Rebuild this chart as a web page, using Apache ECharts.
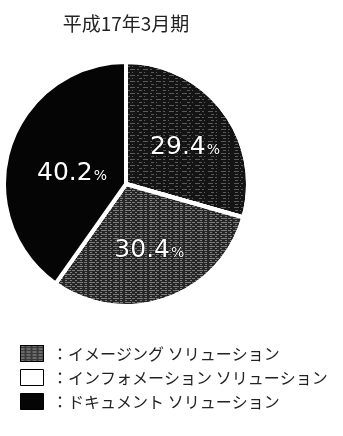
<!DOCTYPE html>
<html>
<head>
<meta charset="utf-8">
<script src="https://cdn.jsdelivr.net/npm/echarts@6/dist/echarts.min.js"></script>
<style>
html,body{margin:0;padding:0;background:#fff;}
#c{width:343px;height:436px;}
</style>
</head>
<body>
<div id="c"></div>
<script>
var titleText = '平成17年3月期';
var categories = ['イメージング ソリューション', 'インフォメーション ソリューション', 'ドキュメント ソリューション'];
var values = [29.4, 30.4, 40.2];

var sliceStyles = [
  {color: '#141414', decal: {symbol: 'rect', symbolSize: 1, dashArrayX: [[5, 2, 2, 4], [1, 6, 3, 2]], dashArrayY: [1, 2], color: 'rgba(255,255,255,0.30)', rotation: 0}},
  {color: '#262626', decal: {symbol: 'rect', symbolSize: 1, dashArrayX: [[3, 2, 6, 1], [2, 3]], dashArrayY: [1, 1], color: 'rgba(255,255,255,0.40)', rotation: 0}},
  {color: '#050505'}
];
var labelOffsets = [[8, 2], [2, 6], [7, 9]];
var legendStyles = [
  {color: '#3a3a3a', borderColor: '#000', borderWidth: 1, decal: {symbol: 'rect', symbolSize: 1, dashArrayX: [[4, 2]], dashArrayY: [1, 2], color: 'rgba(255,255,255,0.5)', rotation: 0}},
  {color: '#ffffff', borderColor: '#000', borderWidth: 1, decal: 'none'},
  {color: '#050505', borderColor: '#000', borderWidth: 1}
];

var chart = echarts.init(document.getElementById('c'), null, {renderer: 'canvas'});
var data = categories.map(function (n, i) {
  return {name: n, value: values[i], itemStyle: sliceStyles[i], label: {offset: labelOffsets[i]}};
});
chart.setOption({
  animation: false,
  backgroundColor: '#ffffff',
  title: {
    text: titleText,
    left: 121, top: 9,
    textAlign: 'center',
    textStyle: {fontFamily: 'Noto Sans CJK JP', fontSize: 19, fontWeight: 'normal', color: '#222'}
  },
  legend: {
    orient: 'vertical',
    left: 15, top: 340,
    itemWidth: 23, itemHeight: 16, itemGap: 7,
    icon: 'rect',
    selectedMode: false,
    data: categories.map(function (n, i) { return {name: n, itemStyle: legendStyles[i]}; }),
    formatter: function (n) { return ' ：' + n; },
    textStyle: {fontFamily: 'Noto Sans CJK JP', fontSize: 16, color: '#222'}
  },
  series: [{
    type: 'pie',
    center: [126, 184],
    radius: [0, 122],
    startAngle: 90,
    clockwise: true,
    itemStyle: {borderColor: '#fff', borderWidth: 4},
    label: {
      position: 'inside',
      formatter: function (p) { return '{n|' + p.value.toFixed(1) + '}{p|%}'; },
      rich: {
        n: {fontFamily: 'DejaVu Sans', fontSize: 25, color: '#fff', textBorderColor: '#000', textBorderWidth: 1},
        p: {fontFamily: 'DejaVu Sans', fontSize: 14, color: '#fff', padding: [6, 0, 0, 1], textBorderColor: '#000', textBorderWidth: 1}
      }
    },
    labelLine: {show: false},
    emphasis: {disabled: true},
    data: data
  }]
});
</script>
</body>
</html>
